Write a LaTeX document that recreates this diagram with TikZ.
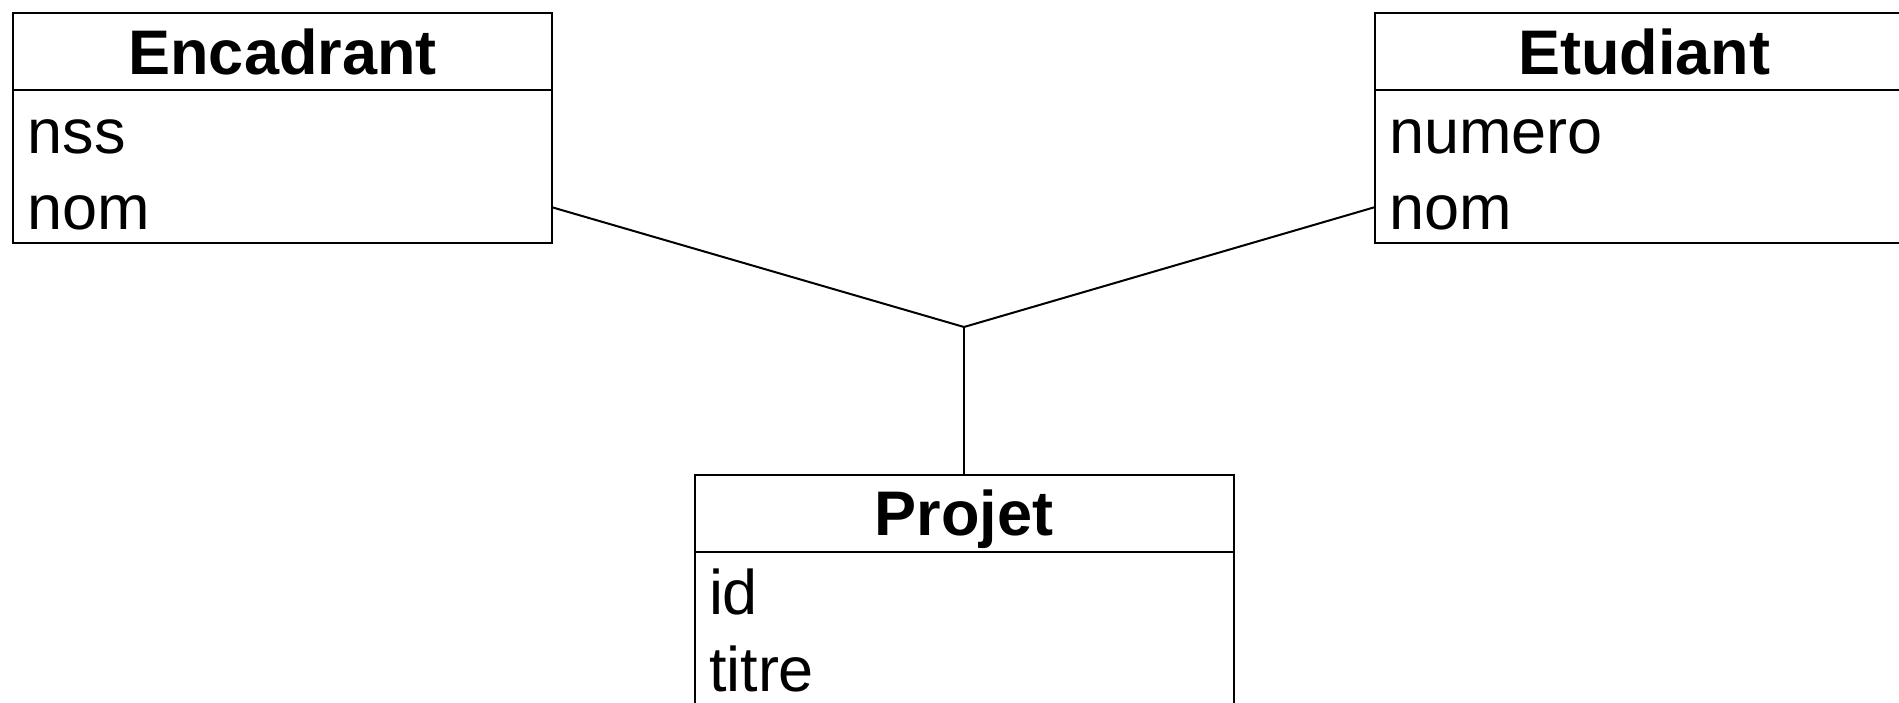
\documentclass[tikz,border=0pt]{standalone}
\usepackage{fontspec}
\setmainfont{Liberation Sans}
\usetikzlibrary{calc}
\begin{document}
\begin{tikzpicture}[x=1pt,y=-1pt,
  line width=2pt,
  every node/.style={outer sep=0pt},
  classhead/.style={draw, rectangle, anchor=north west, inner sep=0pt,
    minimum width=539pt, minimum height=77pt,
    text height=61pt, text depth=16pt,
    font=\fontsize{63}{75}\selectfont\bfseries},
  classrow/.style={rectangle, anchor=north west, inner xsep=14.5pt, inner ysep=0pt,
    minimum width=539pt, minimum height=76.5pt, text width=510pt, align=left,
    text height=63pt, text depth=13.5pt,
    font=\fontsize{63}{75}\selectfont},
  link/.style={draw, line width=2pt}]
  \useasboundingbox (0,0) rectangle (1899,702);

  % Encadrant
  \node[classhead] (enc) at (13,13) {Encadrant};
  \node[classrow] (encnss) at (enc.south west) {nss};
  \node[classrow] (encnom) at (encnss.south west) {nom};
  \draw (enc.north west) rectangle (encnom.south east);

  % Etudiant
  \node[classhead] (etu) at (1374.5,13) {Etudiant};
  \node[classrow] (etunum) at (etu.south west) {numero};
  \node[classrow] (etunom) at (etunum.south west) {nom};
  \draw (etu.north west) rectangle (etunom.south east);

  % Projet
  \node[classhead] (prj) at (694.5,474.5) {Projet};
  \node[classrow] (prjid) at (prj.south west) {id};
  \node[classrow] (prjtit) at (prjid.south west) {titre};
  \draw (prj.north west) rectangle (prjtit.south east);

  % ternary association
  \coordinate (jn) at (964,327);
  \draw[link] ($(encnom.east)+(0,2.5)$) -- (jn);
  \draw[link] ($(etunom.west)+(0,2.5)$) -- (jn);
  \draw[link] (jn) -- (prj.north);
\end{tikzpicture}
\end{document}
